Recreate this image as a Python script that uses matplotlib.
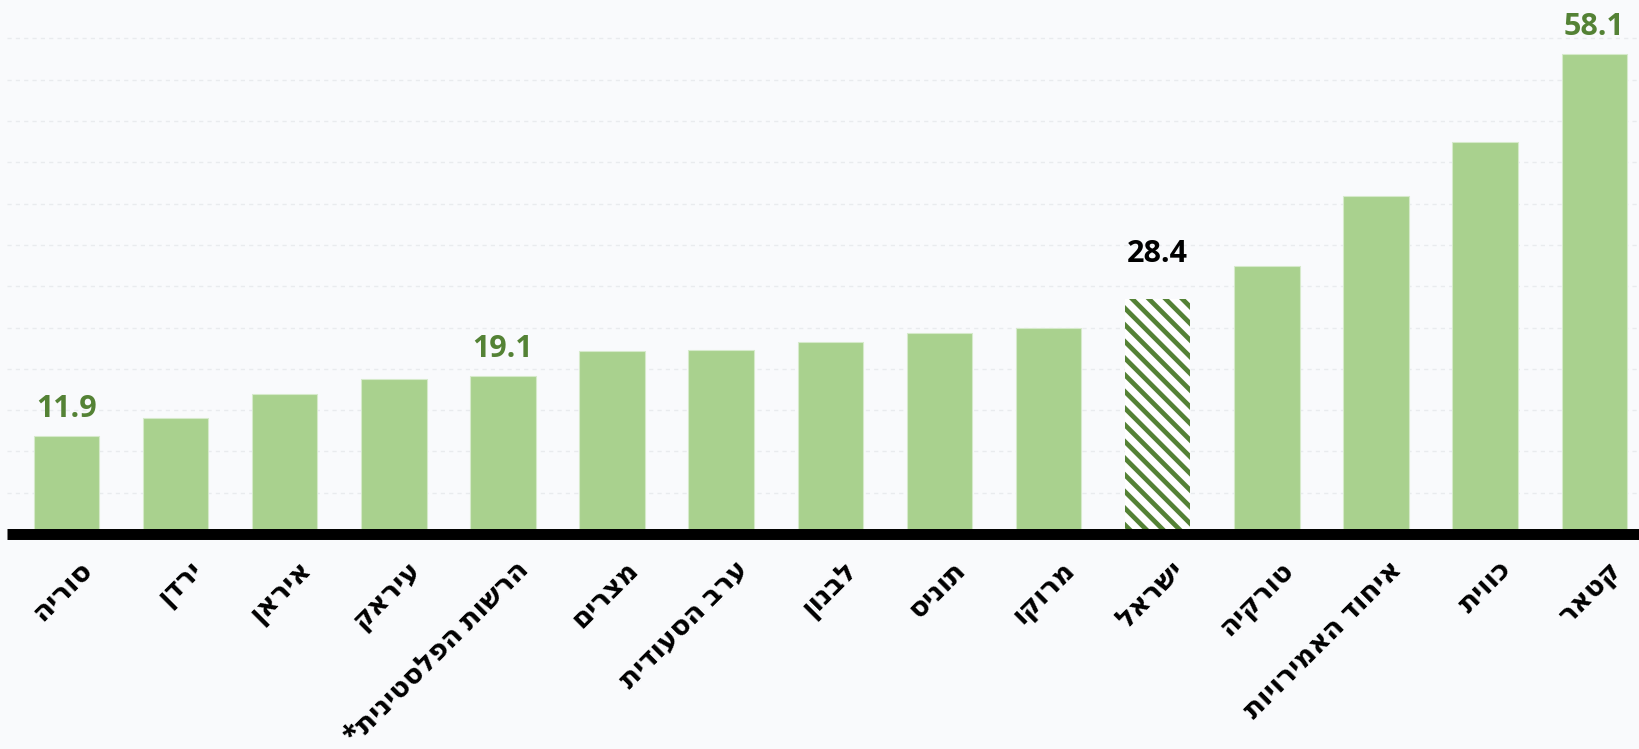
import matplotlib
matplotlib.use("Agg")
import matplotlib.pyplot as plt
from matplotlib.transforms import ScaledTranslation

countries = ["סוריה", "ירדן", "איראן", "עיראק", "הרשות הפלסטינית*", "מצרים",
             "ערב הסעודית", "לבנון", "תוניס", "מרוקו", "ישראל", "טורקיה",
             "איחוד האמירויות", "כווית", "קטאר"]
values = [11.9, 14.0, 16.9, 18.8, 19.1, 22.2, 22.3, 23.2, 24.3, 25.0, 28.4, 32.4, 40.9, 47.4, 58.1]
highlight = "ישראל"
labelled = ["סוריה", "הרשות הפלסטינית*", "ישראל", "קטאר"]

BG = "#F9FAFC"
BAR = "#A9D18E"
DARK = "#548235"
FONT = ["Open Sans", "DejaVu Sans"]

plt.rcParams["font.family"] = FONT
plt.rcParams["hatch.linewidth"] = 3.4
plt.rcParams["hatch.color"] = DARK

fig = plt.figure(figsize=(16.39, 7.49), dpi=100, facecolor=BG)
ax = fig.add_axes([0.0043, 0.287, 0.9957, 0.713])
ax.set_facecolor(BG)

x = list(range(len(countries)))
for i, (c, v) in enumerate(zip(countries, values)):
    if c == highlight:
        ax.bar(i, v, width=0.6, color="white", edgecolor=DARK, hatch="\\\\", linewidth=0, zorder=3)
    else:
        ax.bar(i, v, width=0.6, color=BAR, edgecolor="#D6EACB", linewidth=0.8, zorder=3)

for i, (c, v) in enumerate(zip(countries, values)):
    if c in labelled:
        col = "black" if c == highlight else DARK
        off = 37 if c == highlight else 19
        ax.annotate(f"{v:.1f}", (i, v), xytext=(0, off), textcoords="offset pixels",
                    ha="center", va="baseline", fontsize=22, fontweight="bold", color=col,
                    family=FONT, zorder=4)

ax.set_xlim(-0.5445, 14.41)
ax.set_ylim(0, 64.65)
ax.set_yticks([5 * k for k in range(1, 13)])
ax.set_yticklabels([])
ax.tick_params(axis="y", length=0)
ax.grid(axis="y", color="#E9EBEE", linestyle=(0, (3, 3)), linewidth=1, zorder=0)
for s in ax.spines.values():
    s.set_visible(False)
ax.axhline(0, color="black", linewidth=7.9, zorder=5, clip_on=False, solid_capstyle="butt")

# Hebrew is right-to-left: reverse into visual order
ax.set_xticks(x)
ax.set_xticklabels([c[::-1] for c in countries], rotation=45, ha="right",
                   rotation_mode="anchor", fontsize=20, fontweight="bold", family=FONT)
ax.tick_params(axis="x", length=0, pad=15)
for lab in ax.get_xticklabels():
    lab.set_transform(lab.get_transform() + ScaledTranslation(0.12, 0, fig.dpi_scale_trans))

fig.savefig("out.png", dpi=100, facecolor=BG)
